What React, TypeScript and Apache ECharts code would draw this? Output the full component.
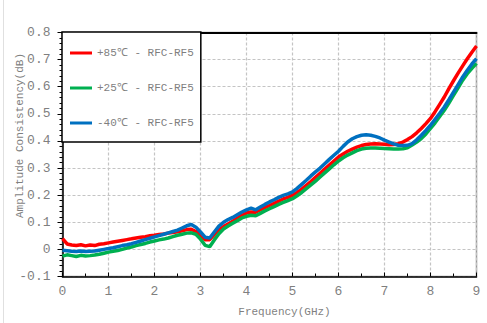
import React, { useEffect, useRef } from "react";
import * as echarts from "echarts";

// Frequency sweep points, 0 – 9 GHz in 0.1 GHz steps
const freqGHz: number[] = Array.from({ length: 91 }, (_, i) => i / 10);

const hot85: number[] = [
  0.040, 0.020, 0.016, 0.014, 0.017, 0.013, 0.016, 0.014, 0.019, 0.021,
  0.024, 0.027, 0.030, 0.033, 0.036, 0.039, 0.042, 0.045, 0.047, 0.050,
  0.052, 0.055, 0.057, 0.060, 0.062, 0.065, 0.069, 0.073, 0.074, 0.066,
  0.048, 0.036, 0.036, 0.055, 0.072, 0.084, 0.094, 0.104, 0.115, 0.126,
  0.134, 0.138, 0.137, 0.146, 0.154, 0.162, 0.170, 0.178, 0.186, 0.192,
  0.200, 0.210, 0.222, 0.236, 0.250, 0.266, 0.281, 0.296, 0.311, 0.326,
  0.341, 0.352, 0.362, 0.370, 0.377, 0.383, 0.387, 0.389, 0.390, 0.389,
  0.388, 0.386, 0.387, 0.390, 0.396, 0.405, 0.416, 0.430, 0.446, 0.464,
  0.483, 0.508, 0.535, 0.562, 0.593, 0.622, 0.650, 0.677, 0.703, 0.727,
  0.750,
];

const room25: number[] = [
  -0.025, -0.020, -0.023, -0.026, -0.022, -0.024, -0.023, -0.021, -0.018, -0.014,
  -0.010, -0.007, -0.004, 0.000, 0.005, 0.009, 0.014, 0.018, 0.022, 0.027,
  0.031, 0.035, 0.038, 0.042, 0.047, 0.052, 0.056, 0.060, 0.061, 0.056,
  0.038, 0.015, 0.010, 0.035, 0.058, 0.075, 0.086, 0.096, 0.106, 0.116,
  0.122, 0.126, 0.124, 0.133, 0.142, 0.150, 0.158, 0.166, 0.173, 0.180,
  0.187, 0.198, 0.210, 0.224, 0.238, 0.252, 0.267, 0.282, 0.297, 0.312,
  0.326, 0.338, 0.348, 0.356, 0.364, 0.370, 0.373, 0.374, 0.374, 0.373,
  0.372, 0.371, 0.370, 0.370, 0.371, 0.375, 0.385, 0.396, 0.409, 0.426,
  0.446, 0.467, 0.490, 0.513, 0.540, 0.568, 0.596, 0.624, 0.648, 0.668,
  0.686,
];

const cold40: number[] = [
  -0.003, -0.005, -0.007, -0.008, -0.006, -0.008, -0.007, -0.006, -0.003, 0.000,
  0.003, 0.006, 0.010, 0.014, 0.017, 0.021, 0.026, 0.031, 0.036, 0.041,
  0.046, 0.051, 0.056, 0.061, 0.066, 0.071, 0.079, 0.087, 0.092, 0.082,
  0.064, 0.045, 0.042, 0.064, 0.086, 0.100, 0.110, 0.118, 0.128, 0.138,
  0.146, 0.152, 0.146, 0.156, 0.166, 0.175, 0.183, 0.192, 0.199, 0.205,
  0.212, 0.225, 0.240, 0.255, 0.271, 0.286, 0.300, 0.316, 0.332, 0.347,
  0.362, 0.380, 0.396, 0.408, 0.416, 0.421, 0.423, 0.421, 0.417, 0.411,
  0.403, 0.396, 0.389, 0.384, 0.383, 0.384, 0.390, 0.404, 0.421, 0.439,
  0.458, 0.480, 0.502, 0.525, 0.552, 0.580, 0.608, 0.636, 0.661, 0.684,
  0.704,
];

const seriesNames: string[] = [
  "+85℃ - RFC-RF5",
  "+25℃ - RFC-RF5",
  "-40℃ - RFC-RF5",
];
const seriesColors: string[] = ["#FF0000", "#00B050", "#0070C0"];
const seriesValues: number[][] = [hot85, room25, cold40];

const FONT = "'Liberation Mono', 'DejaVu Sans Mono', monospace";
const GREY = "#7f7f7f";

export default function App() {
  const ref = useRef<HTMLDivElement>(null);

  useEffect(() => {
    if (!ref.current) return;
    const chart = echarts.init(ref.current, undefined, { renderer: "svg" });

    const splitLine = {
      show: true,
      lineStyle: { color: "#c4c4c4", width: 1.2, type: [3, 2] as number[] },
    };

    chart.setOption({
      animation: false,
      backgroundColor: "#ffffff",
      textStyle: { fontFamily: FONT },
      grid: {
        left: 62.5,
        top: 32.5,
        right: 10.5,
        bottom: 46.5,
        containLabel: false,
        outerBoundsMode: "none",
        show: true,
        borderColor: "#9a9a9a",
        borderWidth: 1.5,
        backgroundColor: "transparent",
      },
      legend: {
        orient: "vertical",
        left: 62,
        top: 32,
        icon: "rect",
        backgroundColor: "#ffffff",
        borderColor: "#000000",
        borderWidth: 1.5,
        borderRadius: 0,
        padding: [14, 7, 12, 8],
        itemGap: 21,
        itemWidth: 22,
        itemHeight: 3,
        textStyle: { fontFamily: FONT, fontSize: 11, lineHeight: 14, color: GREY },
        data: seriesNames,
      },
      xAxis: [
        {
          type: "value",
          min: 0,
          max: 9,
          interval: 1,
          name: "Frequency(GHz)",
          nameLocation: "middle",
          nameGap: 30,
          nameMoveOverlap: false,
          nameTextStyle: {
            fontFamily: FONT,
            fontSize: 11,
            color: GREY,
            padding: [0, 0, 0, 30],
          },
          axisLine: { show: true, onZero: false, lineStyle: { color: "#000000", width: 1.5 } },
          axisTick: { show: true, inside: true, length: 4, lineStyle: { color: "#000000" } },
          minorTick: { show: true, splitNumber: 2, length: 3, lineStyle: { color: "#000000" } },
          axisLabel: {
            margin: 8,
            fontFamily: FONT,
            fontSize: 13,
            color: GREY,
          },
          splitLine,
        },
        {
          type: "value",
          position: "top",
          min: 0,
          max: 9,
          interval: 1,
          axisLine: { show: true, onZero: false, lineStyle: { color: "#000000", width: 2 } },
          axisTick: { show: false },
          axisLabel: { show: false },
          splitLine: { show: false },
        },
      ],
      yAxis: {
        type: "value",
        min: -0.1,
        max: 0.8,
        interval: 0.1,
        name: "Amplitude Consistency(dB)",
        nameLocation: "middle",
        nameGap: 37,
        nameMoveOverlap: false,
        nameTextStyle: {
          fontFamily: FONT,
          fontSize: 11,
          color: GREY,
          padding: [0, 0, 0, 38],
        },
        axisLine: { show: true, onZero: false, lineStyle: { color: "#000000", width: 1.5 } },
        axisTick: { show: true, length: 5, lineStyle: { color: "#000000" } },
        minorTick: { show: true, splitNumber: 5, length: 3, lineStyle: { color: "#000000" } },
        axisLabel: {
          margin: 12,
          fontFamily: FONT,
          fontSize: 13,
          color: GREY,
          formatter: (v: number) => (Math.abs(v) < 1e-9 ? "0" : v.toFixed(1)),
        },
        splitLine,
      },
      graphic: [
        {
          type: "line",
          shape: { x1: 3.5, y1: 0, x2: 3.5, y2: 323 },
          style: { stroke: "#e0e0e0", lineWidth: 1 },
          silent: true,
        },
      ],
      series: seriesNames.map((name, k) => ({
        name,
        type: "line",
        xAxisIndex: 0,
        symbol: "none",
        smooth: false,
        z: 3 + k,
        lineStyle: { color: seriesColors[k], width: 3.5 },
        itemStyle: { color: seriesColors[k] },
        data: freqGHz.map((f, i) => [f, seriesValues[k][i]]),
      })),
    });

    return () => chart.dispose();
  }, []);

  return (
    <div
      ref={ref}
      style={{ position: "fixed", left: 0, top: 0, width: 487, height: 323 }}
    />
  );
}
